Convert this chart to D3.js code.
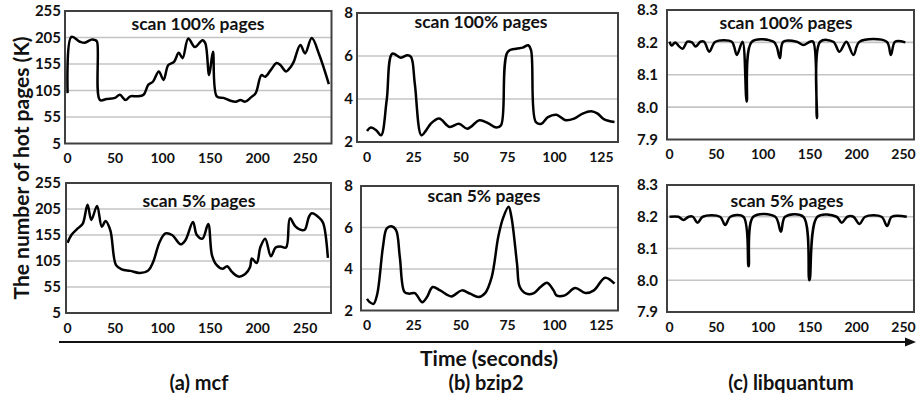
<!DOCTYPE html>
<html>
<head>
<meta charset="utf-8">
<script src="https://cdn.jsdelivr.net/npm/d3@7"></script>
<style>
  html, body { margin: 0; padding: 0; background: #fff; }
  svg text { font-family: Lato, 'Open Sans', sans-serif; font-weight: 700; fill: #111; }
</style>
</head>
<body>
<svg id="chart" width="916" height="393"></svg>
<script>
// mcf, hot pages (K) over time (s)
const mcfTime100 = [0, 4, 13, 18, 25, 29, 31, 34, 41, 50, 55, 61, 66, 73, 80, 85, 90, 96, 101, 106, 112, 117, 121, 127, 134, 142, 145, 149, 153, 157, 164, 171, 177, 182, 187, 193, 198, 204, 208, 214, 220, 224, 230, 235, 238, 245, 250, 257, 265, 275];
const mcfPages100 = [100, 206, 197, 195, 201, 200, 197, 87, 89, 91, 97, 87, 94, 94, 97, 116, 122, 141, 125, 153, 159, 176, 166, 203, 187, 200, 194, 134, 178, 94, 91, 86, 84, 87, 84, 92, 100, 134, 131, 144, 157, 153, 141, 150, 159, 191, 175, 204, 172, 117];
const mcfTime5 = [0, 4, 11, 16, 21, 25, 31, 36, 40, 45, 51, 57, 66, 76, 85, 90, 97, 103, 110, 119, 124, 132, 136, 142, 148, 152, 157, 163, 168, 173, 180, 187, 192, 194, 199, 203, 208, 214, 219, 224, 230, 234, 240, 247, 250, 254, 257, 265, 269, 274];
const mcfPages5 = [140, 155, 168, 177, 213, 184, 211, 171, 182, 164, 97, 89, 86, 82, 87, 103, 142, 158, 155, 137, 145, 180, 155, 148, 176, 116, 97, 90, 95, 84, 75, 80, 93, 110, 101, 132, 148, 114, 131, 133, 131, 187, 171, 164, 166, 190, 197, 188, 178, 111];

// bzip2
const bzipTime100 = [0, 2, 5, 7.5, 10.5, 13.5, 18, 21.5, 23.5, 25.5, 29, 31.5, 34, 38.5, 44, 49, 53.5, 60, 64.5, 69, 71.5, 75, 79.5, 83, 86, 87.5, 90, 93, 96.5, 101, 106, 110.5, 115, 119.5, 123, 126.5, 132];
const bzipPages100 = [2.51, 2.67, 2.54, 2.31, 3.94, 6.11, 5.92, 6.03, 5.95, 4.71, 2.31, 2.54, 2.85, 3.09, 2.70, 2.85, 2.62, 3.01, 2.88, 2.67, 2.78, 6.19, 6.34, 6.39, 6.50, 6.26, 2.93, 2.85, 3.16, 3.27, 3.01, 3.09, 3.32, 3.43, 3.32, 3.05, 2.93];
const bzipTime5 = [0, 1.5, 3.5, 5.5, 8.5, 10.5, 13, 15.5, 17.5, 20, 22.5, 25.5, 29.5, 32, 35, 39, 45, 50.5, 55, 59.5, 63, 66.5, 70, 72.5, 75.5, 77, 80, 81.5, 85, 89, 92.5, 96, 99.5, 101, 105.5, 111, 116.5, 121, 127, 132];
const bzipPages5 = [2.56, 2.40, 2.32, 2.81, 5.06, 5.95, 6.06, 5.87, 4.58, 2.89, 2.81, 2.84, 2.40, 2.65, 3.13, 2.97, 2.68, 2.97, 2.81, 2.65, 2.84, 3.61, 5.55, 6.44, 7.0, 6.52, 4.26, 3.13, 2.81, 2.84, 3.13, 3.34, 2.97, 2.73, 2.73, 3.08, 2.84, 2.97, 3.58, 3.29];

// libquantum
const libqTime100 = [0, 2.5, 6, 9.5, 14, 19, 24, 28, 33, 37, 42.5, 49, 66.5, 69, 72, 78, 82.5, 88, 111, 114.5, 118, 121.5, 136, 143, 150, 153.5, 157.5, 161, 175, 181.5, 189, 196.5, 203, 232, 236.5, 241, 252];
const libqPages100 = [8.202, 8.19, 8.2, 8.19, 8.18, 8.202, 8.2, 8.187, 8.202, 8.202, 8.171, 8.202, 8.202, 8.187, 8.161, 8.202, 8.017, 8.202, 8.202, 8.187, 8.151, 8.202, 8.202, 8.192, 8.202, 8.202, 7.966, 8.202, 8.202, 8.171, 8.202, 8.161, 8.202, 8.202, 8.161, 8.202, 8.2];
const libqTime5 = [0, 9.5, 15, 20.5, 25, 30, 35.5, 54, 59.5, 65, 79, 84.5, 89.5, 113, 119, 123.5, 143, 149.5, 158, 178.5, 184, 190, 196.5, 203, 209, 226.5, 232.5, 237.5, 253.5];
const libqPages5 = [8.2, 8.2, 8.19, 8.2, 8.2, 8.181, 8.2, 8.2, 8.174, 8.2, 8.2, 8.044, 8.2, 8.2, 8.153, 8.2, 8.2, 8.0, 8.2, 8.2, 8.181, 8.2, 8.2, 8.177, 8.2, 8.2, 8.171, 8.2, 8.2];

// tick labels
const mcfYTicks = [5, 55, 105, 155, 205, 255];
const bzipYTicks = [2, 4, 6, 8];
const libqYTicks = [7.9, 8.0, 8.1, 8.2, 8.3];
const mcfXTicks = [0, 50, 100, 150, 200, 250];
const bzipXTicks = [0, 25, 50, 75, 100, 125];
const libqXTicks = [0, 50, 100, 150, 200, 250];

const titles = ['scan 100% pages', 'scan 5% pages'];
const benchNames = ['(a) mcf', '(b) bzip2', '(c) libquantum'];

const zip = (ts, vs) => ts.map((t, i) => ({ t, v: vs[i] }));

// layout: box = [left, right, top, bottom], xr = pixel of first/last x tick
const panels = [
  { data: zip(mcfTime100, mcfPages100), title: titles[0], box: [65, 331.5, 11, 143.5], xr: [67.6, 305.1], xd: [0, 250], yd: [5, 255], yTicks: mcfYTicks, xTicks: mcfXTicks, fmt: d3.format('d'), labelX: 61, titleAt: [198, 24] },
  { data: zip(mcfTime5, mcfPages5), title: titles[1], box: [66, 331, 183, 313], xr: [67.6, 305.1], xd: [0, 250], yd: [5, 255], yTicks: mcfYTicks, xTicks: mcfXTicks, fmt: d3.format('d'), labelX: 61, titleAt: [199, 201] },
  { data: zip(bzipTime100, bzipPages100), title: titles[0], box: [357, 618, 13, 142], xr: [367, 601.4], xd: [0, 125], yd: [2, 8], yTicks: bzipYTicks, xTicks: bzipXTicks, fmt: d3.format('d'), labelX: 353, titleAt: [481, 22] },
  { data: zip(bzipTime5, bzipPages5), title: titles[1], box: [361, 618, 186, 310.5], xr: [367, 601.4], xd: [0, 125], yd: [2, 8], yTicks: bzipYTicks, xTicks: bzipXTicks, fmt: d3.format('d'), labelX: 353, titleAt: [484, 196] },
  { data: zip(libqTime100, libqPages100), title: titles[0], box: [667, 914, 10, 139.5], xr: [669.5, 903.5], xd: [0, 250], yd: [7.9, 8.3], yTicks: libqYTicks, xTicks: libqXTicks, fmt: d3.format('.1f'), labelX: 658, titleAt: [786, 23] },
  { data: zip(libqTime5, libqPages5), title: titles[1], box: [667, 914, 185, 312], xr: [669.5, 903.5], xd: [0, 250], yd: [7.9, 8.3], yTicks: libqYTicks, xTicks: libqXTicks, fmt: d3.format('.1f'), labelX: 658, titleAt: [787, 201] },
];

const svg = d3.select('#chart');

panels.forEach((p) => {
  const [x0, x1, y0, y1] = p.box;
  const x = d3.scaleLinear().domain(p.xd).range(p.xr);
  const y = d3.scaleLinear().domain(p.yd).range([y1, y0]);
  const g = svg.append('g');

  // gridlines (inner ticks only)
  g.selectAll('.grid')
    .data(p.yTicks.slice(1, -1))
    .join('line')
    .attr('x1', x0).attr('x2', x1)
    .attr('y1', (d) => y(d)).attr('y2', (d) => y(d))
    .attr('stroke', '#c4c4c4')
    .attr('stroke-width', 1.6);

  // series line
  const line = d3.line()
    .x((d) => x(d.t))
    .y((d) => y(d.v))
    .curve(d3.curveCatmullRom.alpha(0.5));
  g.append('path')
    .datum(p.data)
    .attr('d', line)
    .attr('fill', 'none')
    .attr('stroke', '#000')
    .attr('stroke-width', 2.5)
    .attr('stroke-linejoin', 'round');

  // frame
  g.append('rect')
    .attr('x', x0).attr('y', y0)
    .attr('width', x1 - x0).attr('height', y1 - y0)
    .attr('fill', 'none')
    .attr('stroke', '#404040')
    .attr('stroke-width', 2);

  // y tick labels
  g.selectAll('.ylab')
    .data(p.yTicks)
    .join('text')
    .attr('x', p.labelX)
    .attr('y', (d) => y(d))
    .attr('dy', '0.36em')
    .attr('text-anchor', 'end')
    .style('font-size', '15px')
    .text((d) => p.fmt(d));

  // x tick labels
  g.selectAll('.xlab')
    .data(p.xTicks)
    .join('text')
    .attr('x', (d) => x(d))
    .attr('y', y1 + 14.5)
    .attr('dy', '0.36em')
    .attr('text-anchor', 'middle')
    .style('font-size', '14px')
    .text((d) => d);

  // panel title
  g.append('text')
    .attr('x', p.titleAt[0])
    .attr('y', p.titleAt[1])
    .attr('dy', '0.36em')
    .attr('text-anchor', 'middle')
    .style('font-size', '17.5px')
    .text(p.title);
});

// shared time arrow
svg.append('line')
  .attr('x1', 59).attr('x2', 906)
  .attr('y1', 342).attr('y2', 342)
  .attr('stroke', '#111')
  .attr('stroke-width', 2.2);
svg.append('path')
  .attr('d', 'M905,337.5 L916,342 L905,346.5 Z')
  .attr('fill', '#111');

svg.append('text')
  .attr('x', 489).attr('y', 358)
  .attr('dy', '0.36em')
  .attr('text-anchor', 'middle')
  .style('font-size', '21px')
  .text('Time (seconds)');

svg.selectAll('.bench')
  .data(benchNames)
  .join('text')
  .attr('x', (d, i) => [199, 486, 791][i])
  .attr('y', 383)
  .attr('dy', '0.36em')
  .attr('text-anchor', 'middle')
  .style('font-size', '20px')
  .text((d) => d);

svg.append('text')
  .attr('transform', 'translate(21,168) rotate(-90)')
  .attr('dy', '0.36em')
  .attr('text-anchor', 'middle')
  .style('font-size', '21px')
  .text('The number of hot pages (K)');
</script>
</body>
</html>
